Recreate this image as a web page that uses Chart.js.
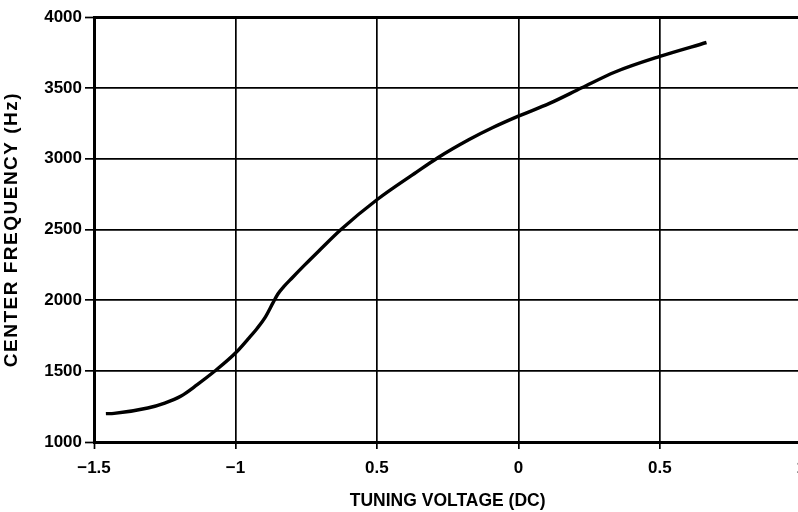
<!DOCTYPE html>
<html>
<head>
<meta charset="utf-8">
<script src="https://cdn.jsdelivr.net/npm/chart.js@4/dist/chart.umd.min.js"></script>
<style>
  html, body { margin: 0; padding: 0; background: #fff; overflow: hidden; }
  #wrap { width: 815px; height: 512px; }
</style>
</head>
<body>
<div id="wrap"><canvas id="c" width="815" height="512"></canvas></div>
<script>
// Tuning voltage (V DC) and measured center frequency (Hz)
const tuningVoltage = [-1.458, -1.429, -1.310, -1.250, -1.192, -1.135, -1.074, -1.000, -0.955,
  -0.925, -0.895, -0.868, -0.850, -0.830, -0.800, -0.755, -0.707, -0.627, -0.500, -0.360,
  -0.286, -0.174, -0.092, 0.000, 0.110, 0.224, 0.342, 0.500, 0.665];
const centerFrequency = [1200, 1202, 1240, 1275, 1325, 1405, 1499, 1628, 1728,
  1798, 1880, 1980, 2045, 2095, 2158, 2250, 2345, 2500, 2710, 2905,
  3005, 3135, 3218, 3300, 3390, 3500, 3612, 3722, 3820];

// Tick labels as printed on the axes
const xTickValues = [-1.5, -1, -0.5, 0, 0.5, 1];
const xTickLabels = ['\u22121.5', '\u22121', '0.5', '0', '0.5', '1'];
const yTickValues = [1000, 1500, 2000, 2500, 3000, 3500, 4000];

const points = tuningVoltage.map((v, i) => ({ x: v, y: centerFrequency[i] }));
const FONT = "'Liberation Sans', Arial, sans-serif";

// Spread the letters of the vertical axis title
const spacedYTitle = {
  id: 'spacedYTitle',
  beforeDraw(chart) {
    const s = chart.scales.y;
    if (s && !s._spaced) {
      const orig = s.drawTitle.bind(s);
      s.drawTitle = function () {
        const ctx = this.ctx;
        ctx.save();
        ctx.letterSpacing = '1.5px';
        orig();
        ctx.restore();
      };
      s._spaced = true;
    }
  }
};

new Chart(document.getElementById('c'), {
  type: 'scatter',
  data: {
    datasets: [{
      data: points,
      showLine: true,
      borderColor: '#000',
      borderWidth: 3.4,
      pointRadius: 0,
      cubicInterpolationMode: 'monotone',
      fill: false
    }]
  },
  plugins: [spacedYTitle],
  options: {
    responsive: false,
    animation: false,
    layout: { padding: { top: 17, right: 0, bottom: 0, left: 0 } },
    plugins: { legend: { display: false }, tooltip: { enabled: false } },
    scales: {
      x: {
        type: 'linear',
        min: -1.5,
        max: 1,
        afterBuildTicks: (s) => { s.ticks = xTickValues.map(v => ({ value: v })); },
        afterFit: (s) => { s.height = 70; },
        ticks: {
          color: '#000',
          font: { family: FONT, size: 17, weight: 'bold' },
          padding: 9,
          maxRotation: 0,
          callback: (v) => {
            const i = xTickValues.findIndex(t => Math.abs(t - v) < 1e-9);
            return i >= 0 ? xTickLabels[i] : '';
          }
        },
        grid: {
          color: '#000',
          lineWidth: (ctx) => (ctx.tick && ctx.tick.value === -1.5) ? 3 : 1.7,
          tickLength: 7,
          tickColor: '#000',
          tickWidth: 1.7
        },
        border: { display: true, color: '#000', width: 3 },
        title: {
          display: true,
          text: 'TUNING VOLTAGE (DC)',
          color: '#000',
          font: { family: FONT, size: 17.5, weight: 'bold' },
          padding: { top: 4, bottom: 0 }
        }
      },
      y: {
        type: 'linear',
        min: 1000,
        max: 4000,
        afterBuildTicks: (s) => { s.ticks = yTickValues.map(v => ({ value: v })); },
        afterFit: (s) => { s.width = 94; },
        ticks: {
          color: '#000',
          font: { family: FONT, size: 17, weight: 'bold' },
          padding: 3,
          callback: (v) => String(v)
        },
        grid: {
          color: '#000',
          lineWidth: (ctx) => (ctx.tick && (ctx.tick.value === 4000 || ctx.tick.value === 1000)) ? 3 : 1.7,
          tickLength: 9,
          tickColor: '#000',
          tickWidth: 1.7
        },
        border: { display: true, color: '#000', width: 3 },
        title: {
          display: true,
          text: 'CENTER FREQUENCY (Hz)',
          color: '#000',
          font: { family: FONT, size: 19, weight: 'bold' },
          padding: { top: 0, bottom: 4 }
        }
      }
    }
  }
});
</script>
</body>
</html>
